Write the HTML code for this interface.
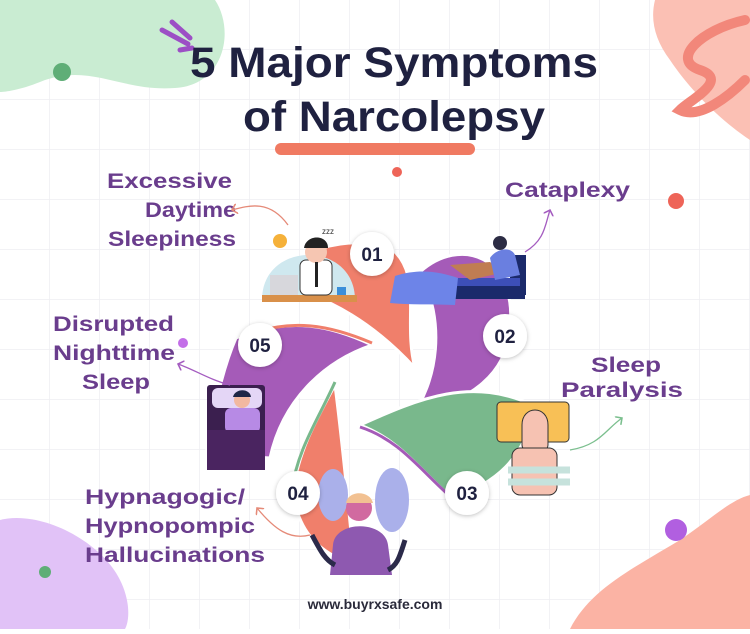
<!DOCTYPE html>
<html><head><meta charset="utf-8"><style>
html,body{margin:0;padding:0;background:#fff}
body{width:750px;height:629px;overflow:hidden;font-family:"Liberation Sans","DejaVu Sans",sans-serif}
</style></head><body>
<svg width="750" height="629" viewBox="0 0 750 629" xmlns="http://www.w3.org/2000/svg">
<defs>
<pattern id="g" width="50" height="50" patternUnits="userSpaceOnUse"><path d="M50 0V50H0" fill="none" stroke="#eeeef2" stroke-width="1.5"/></pattern>
<filter id="sh" x="-30%" y="-30%" width="160%" height="160%"><feDropShadow dx="0" dy="1" stdDeviation="2" flood-color="#000" flood-opacity="0.25"/></filter>
<marker id="ar" markerWidth="8" markerHeight="8" refX="4" refY="4" orient="auto"><path d="M0,0 L4,4 L0,8" fill="none" stroke="#e58a78" stroke-width="1.2"/></marker>
<marker id="ag" markerWidth="8" markerHeight="8" refX="4" refY="4" orient="auto"><path d="M0,0 L4,4 L0,8" fill="none" stroke="#7bbf8e" stroke-width="1.2"/></marker>
<marker id="ap" markerWidth="8" markerHeight="8" refX="4" refY="4" orient="auto"><path d="M0,0 L4,4 L0,8" fill="none" stroke="#a45cc0" stroke-width="1.2"/></marker>
</defs>
<rect width="750" height="629" fill="url(#g)"/>
<!-- corner blobs -->
<path d="M0,0 H215 C235,30 225,85 175,88 C120,92 90,62 40,82 C20,90 5,92 0,92 Z" fill="#c9ecd2"/>
<circle cx="62" cy="72" r="9" fill="#5fae77"/>
<path d="M655,0 H750 V140 C720,120 690,90 670,60 C655,40 650,20 655,0Z" fill="#fbc0b4"/>
<path d="M745,20 C700,30 670,60 700,70 C730,80 690,100 680,110 C700,120 730,95 745,80" fill="none" stroke="#f2877a" stroke-width="10" stroke-linecap="round"/>
<path d="M0,520 C40,510 100,540 120,580 C130,600 130,620 125,629 H0 Z" fill="#e1c2f7"/>
<circle cx="45" cy="572" r="6" fill="#5fae77"/>
<path d="M570,629 C590,590 630,570 680,540 C710,520 730,500 750,495 V629 Z" fill="#fbb3a4"/>
<circle cx="676" cy="530" r="11" fill="#b15fe0"/>
<circle cx="676" cy="201" r="8" fill="#ee6458"/>
<circle cx="397" cy="172" r="5" fill="#ee6458"/>
<circle cx="183" cy="343" r="5" fill="#c36ee8"/>
<!-- title -->
<path d="M162,30 L188,44 M172,22 L190,38 M180,50 L192,48" stroke="#9c4fc5" stroke-width="5" stroke-linecap="round"/>
<text x="190" y="77" textLength="408" lengthAdjust="spacingAndGlyphs" font-size="43" font-weight="bold" fill="#1f2140">5 Major Symptoms</text>
<text x="243" y="131" textLength="302" lengthAdjust="spacingAndGlyphs" font-size="43" font-weight="bold" fill="#1f2140">of Narcolepsy</text>
<rect x="275" y="143" width="200" height="12" rx="6" fill="#f07a62"/>
<!-- petals -->
<g stroke-width="3">
<path d="M268,285 C295,250 340,236 388,246 C425,272 402,320 415,368 C380,330 330,292 268,285 Z" fill="#f07f6b" stroke="#fff"/>
<path d="M420,272 C460,236 518,255 510,330 C504,388 452,402 408,422 C440,380 445,320 420,272 Z" fill="#a55bb8" stroke="#fff"/>
<path d="M360,425 C420,398 472,376 535,406 C525,460 494,484 452,498 C420,470 400,440 360,425 Z" fill="#79b88c" stroke="#fff"/>
<path d="M335,385 C316,420 298,452 293,492 C298,532 320,554 354,564 C348,500 342,440 335,385 Z" fill="#f07f6b" stroke="#fff"/>
<path d="M236,338 C290,316 332,326 372,345 C322,362 282,402 270,458 L206,454 C214,410 222,370 236,338Z" fill="#a55bb8" stroke="#fff"/>
</g>
<path d="M360,427 C400,440 420,470 452,498" stroke="#a55bb8" stroke-width="3" fill="none"/>
<path d="M335,382 C318,420 297,450 292,490" stroke="#79b88c" stroke-width="3" fill="none"/>
<path d="M240,338 C290,316 332,326 372,343" stroke="#f07f6b" stroke-width="3" fill="none"/>
<!-- illustration 01 -->
<path d="M262,300 C262,240 355,240 355,300 Z" fill="#cfe8ef"/>
<rect x="262" y="295" width="95" height="7" fill="#d9904a"/>
<rect x="270" y="275" width="28" height="20" fill="#d7d7dc"/>
<rect x="300" y="260" width="32" height="35" rx="6" fill="#fff" stroke="#333"/>
<circle cx="316" cy="252" r="11" fill="#f6c6b2"/>
<path d="M304,248 C306,234 328,234 328,248 Z" fill="#222"/>
<rect x="315" y="262" width="3" height="25" fill="#222"/>
<circle cx="280" cy="241" r="7" fill="#f5b13a"/>
<rect x="337" y="287" width="9" height="8" fill="#3b8fd9"/>
<text x="322" y="234" font-size="8" fill="#333">zzz</text>
<!-- illustration 02 -->
<rect x="450" y="283" width="75" height="16" fill="#1b2a6b"/>
<rect x="510" y="255" width="16" height="40" fill="#1b2a6b"/>
<rect x="450" y="278" width="70" height="8" fill="#3d4fb8"/>
<path d="M395,276 C420,268 440,272 458,278 L455,305 C430,304 410,305 390,303 Z" fill="#6d84e8"/>
<path d="M450,265 L490,262 L505,272 L470,280Z" fill="#c07d52"/>
<path d="M490,258 C495,250 510,245 515,255 L520,275 L495,280 Z" fill="#6a7fe0"/>
<circle cx="500" cy="243" r="7" fill="#2c2c44"/>
<!-- illustration 05 -->
<rect x="207" y="385" width="58" height="85" rx="3" fill="#3b1f4f"/>
<rect x="212" y="388" width="50" height="20" rx="6" fill="#e4d6f6"/>
<rect x="225" y="408" width="35" height="25" rx="6" fill="#b78ae5"/>
<circle cx="242" cy="400" r="8" fill="#f2b8a0"/>
<path d="M233,397 C235,388 250,388 251,397Z" fill="#1e2746"/>
<rect x="207" y="430" width="58" height="40" fill="#4a2460"/>
<!-- illustration 03 -->
<rect x="497" y="402" width="72" height="40" rx="4" fill="#f8c056" stroke="#333"/>
<path d="M522,425 C522,405 548,405 548,425 L548,445 C548,455 522,455 522,445Z" fill="#f6c2b2" stroke="#333"/>
<rect x="512" y="448" width="45" height="47" rx="8" fill="#f6c2b2" stroke="#333"/>
<path d="M508,470 H570 M508,482 H570" stroke="#c6e2dc" stroke-width="7"/>
<!-- illustration 04 -->
<ellipse cx="333" cy="495" rx="15" ry="26" fill="#aab0ea"/>
<ellipse cx="392" cy="500" rx="17" ry="32" fill="#aab0ea"/>
<path d="M333,545 C335,520 385,520 388,545 L392,575 H330Z" fill="#8e59b0"/>
<circle cx="359" cy="508" r="13" fill="#d16aa0"/>
<path d="M346,503 C348,490 370,490 373,503Z" fill="#f2c192"/>
<path d="M312,535 C320,550 325,560 335,565 M405,540 C400,555 398,565 388,570" stroke="#2b2a4a" stroke-width="5" fill="none"/>
<!-- number circles -->
<g filter="url(#sh)" fill="#fff">
<circle cx="372" cy="254" r="22"/><circle cx="505" cy="336" r="22"/><circle cx="467" cy="493" r="22"/><circle cx="298" cy="493" r="22"/><circle cx="260" cy="345" r="22"/>
</g>
<g font-size="19" font-weight="bold" fill="#1f2140" text-anchor="middle">
<text x="372" y="261">01</text><text x="505" y="343">02</text><text x="467" y="500">03</text><text x="298" y="500">04</text><text x="260" y="352">05</text>
</g>
<!-- labels -->
<g font-size="21" font-weight="bold" fill="#6a3d8d" lengthAdjust="spacingAndGlyphs">
<text x="107" y="188" textLength="125" lengthAdjust="spacingAndGlyphs">Excessive</text>
<text x="145" y="217" textLength="91" lengthAdjust="spacingAndGlyphs">Daytime</text>
<text x="108" y="246" textLength="128" lengthAdjust="spacingAndGlyphs">Sleepiness</text>
<text x="505" y="197" textLength="125" lengthAdjust="spacingAndGlyphs">Cataplexy</text>
<text x="53" y="331" textLength="121" lengthAdjust="spacingAndGlyphs">Disrupted</text>
<text x="53" y="360" textLength="122" lengthAdjust="spacingAndGlyphs">Nighttime</text>
<text x="82" y="389" textLength="68" lengthAdjust="spacingAndGlyphs">Sleep</text>
<text x="591" y="372" textLength="70" lengthAdjust="spacingAndGlyphs">Sleep</text>
<text x="561" y="397" textLength="122" lengthAdjust="spacingAndGlyphs">Paralysis</text>
<text x="85" y="504" textLength="160" lengthAdjust="spacingAndGlyphs">Hypnagogic/</text>
<text x="85" y="533" textLength="170" lengthAdjust="spacingAndGlyphs">Hypnopompic</text>
<text x="85" y="562" textLength="180" lengthAdjust="spacingAndGlyphs">Hallucinations</text>
</g>
<!-- arrows -->
<path d="M288,225 C270,200 250,205 232,210" fill="none" stroke="#e58a78" stroke-width="1.3" marker-end="url(#ar)"/>
<path d="M525,252 C545,240 545,225 550,210" fill="none" stroke="#a45cc0" stroke-width="1.3" marker-end="url(#ap)"/>
<path d="M570,450 C600,445 605,430 622,418" fill="none" stroke="#7bbf8e" stroke-width="1.3" marker-end="url(#ag)"/>
<path d="M230,385 C210,380 195,370 178,364" fill="none" stroke="#a45cc0" stroke-width="1.3" marker-end="url(#ap)"/>
<path d="M310,535 C290,540 275,530 257,508" fill="none" stroke="#e58a78" stroke-width="1.3" marker-end="url(#ar)"/>
<text x="375" y="609" text-anchor="middle" font-size="14" font-weight="bold" fill="#2a2a3a">www.buyrxsafe.com</text>
</svg>
</body></html>
